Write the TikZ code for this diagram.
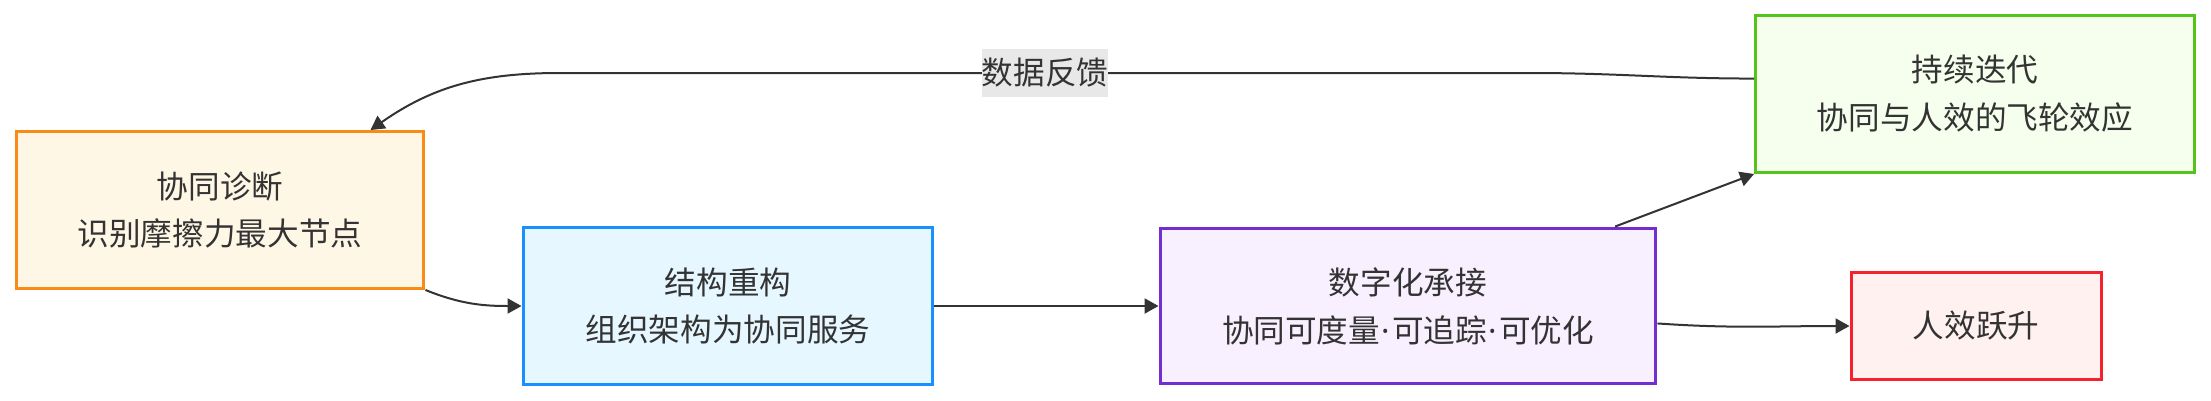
\documentclass[tikz,border=0pt]{standalone}
\usepackage{fontspec}
\setmainfont{Noto Sans CJK SC}
\newfontfamily\dotfont{Noto Sans}
\usepackage{xcolor}
\usetikzlibrary{positioning,arrows.meta}
\definecolor{inkcolor}{HTML}{333333}
\definecolor{diagdraw}{HTML}{FA8C16}
\definecolor{diagfill}{HTML}{FFF7E6}
\definecolor{restdraw}{HTML}{1890FF}
\definecolor{restfill}{HTML}{E6F7FF}
\definecolor{digidraw}{HTML}{722ED1}
\definecolor{digifill}{HTML}{F9F0FF}
\definecolor{iterdraw}{HTML}{52C41A}
\definecolor{iterfill}{HTML}{F6FFED}
\definecolor{gaindraw}{HTML}{F5222D}
\definecolor{gainfill}{HTML}{FFF1F0}
\newcommand{\middot}{\makebox[0.24cm]{\dotfont ·}}
\tikzset{
  stage box/.style={
    rectangle,
    line width=0.06cm,
    inner sep=0pt,
    align=center,
    text=inkcolor,
    font=\fontsize{18}{27.3}\selectfont
  },
  diag box/.style={stage box, draw=diagdraw, fill=diagfill},
  rest box/.style={stage box, draw=restdraw, fill=restfill},
  digi box/.style={stage box, draw=digidraw, fill=digifill},
  iter box/.style={stage box, draw=iterdraw, fill=iterfill},
  gain box/.style={stage box, draw=gaindraw, fill=gainfill},
  flow/.style={
    -{Triangle[length=0.28cm, width=0.3cm]},
    draw=inkcolor,
    line width=0.04cm
  },
  flow label/.style={
    fill=black!9,
    text=inkcolor,
    inner sep=0pt,
    minimum height=0.96cm,
    font=\fontsize{18}{24}\selectfont
  }
}
\begin{document}
\begin{tikzpicture}[x=0.02cm, y=-0.02cm]

  \useasboundingbox (0,0) rectangle (2211,400);

  % Stages
  \node[diag box, minimum width=8.16cm, minimum height=3.14cm] (diag) at (220,210) {协同诊断\\识别摩擦力最大节点};
  \node[rest box, minimum width=8.2cm, minimum height=3.14cm] (rest) at (728,306) {结构重构\\组织架构为协同服务};
  \node[digi box, minimum width=9.92cm, minimum height=3.12cm] (digi) at (1408,306) {数字化承接\\协同可度量\middot 可追踪\middot 可优化};
  \node[iter box, minimum width=8.78cm, minimum height=3.14cm] (iter) at (1975,94) {持续迭代\\协同与人效的飞轮效应};
  \node[gain box, minimum width=5cm, minimum height=2.16cm] (gain) at (1976,326) {人效跃升};

  % Feedback path
  \coordinate (fbR) at (1530,73);
  \coordinate (fbL) at (560,73);

  % Main flow
  \draw[flow] (diag.south east) to[out=-22, in=180] (rest.west);
  \draw[flow] (rest) -- (digi);
  \draw[flow] (digi.21) -- (iter.south west);
  \draw[flow] (digi.-4) to[out=-4, in=180] (gain.west);

  % Data feedback
  \draw[flow] (iter.176) to[out=180, in=0] (fbR) -- node[flow label] {数据反馈} (fbL) to[out=180, in=35] (diag.28);

\end{tikzpicture}
\end{document}
